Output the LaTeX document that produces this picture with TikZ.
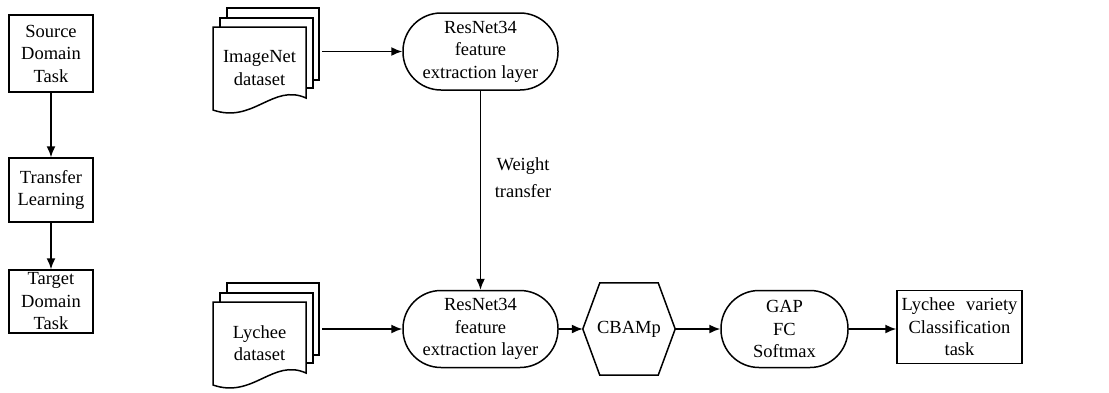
\documentclass[tikz,border=0pt]{standalone}
\usepackage{fontspec}
\setmainfont{Liberation Serif}
\usetikzlibrary{arrows.meta}
\begin{document}
\begin{tikzpicture}[x=1pt,y=-1pt,
  lw/.style={line width=1.5pt},
  txt/.style={align=center,inner sep=0pt,font=\fontsize{18.5}{22.5}\selectfont},
  box/.style={txt,draw,lw},
  stadium/.style={txt,draw,lw,rounded corners=38pt},
  arr/.style={lw,-{Latex[length=11pt,width=9pt]}},
  docstack/.pic={
    \draw[lw,fill=white] (14,-19) rectangle (106,53);
    \draw[lw,fill=white] (7,-9) rectangle (100,61);
    \draw[lw,fill=white] (0,0) -- (93,0) -- (93,71) .. controls (60,56) and (40,97) .. (0,83) -- cycle;
  }]
\useasboundingbox (0,0) rectangle (1109,392);

% left column
\node[box,minimum width=84pt,minimum height=77pt] (src) at (51,53.5) {Source\\Domain\\Task};
\node[box,minimum width=84pt,minimum height=64pt] (trl) at (51,190) {Transfer\\Learning};
\node[box,minimum width=84pt,minimum height=63pt] (tgt) at (51,301.5) {Target\\Domain\\Task};
\draw[arr] (src) -- (trl);
\draw[arr] (trl) -- (tgt);

% document stacks
\pic at (213,27) {docstack};
\pic at (213,302) {docstack};
\node[txt] (imgnet) at (259.5,68) {ImageNet\\dataset};
\node[txt] (lydata) at (259.5,343) {Lychee\\dataset};
\node[inner sep=0pt,minimum width=106pt,minimum height=102pt,anchor=north west] (imgstack) at (213,8) {};
\node[inner sep=0pt,minimum width=106pt,minimum height=102pt,anchor=north west] (lystack) at (213,283) {};

% main nodes
\node[stadium,minimum width=155pt,minimum height=77pt] (res1) at (480.5,51.5) {ResNet34\\feature\\extraction layer};
\node[stadium,minimum width=155pt,minimum height=77pt] (res2) at (480.5,329) {ResNet34\\feature\\extraction layer};
\node[txt,minimum width=92pt,minimum height=92pt] (cbam) at (629,329) {CBAMp};
\draw[lw] (cbam.west) -- ([xshift=17pt]cbam.north west) -- ([xshift=-17pt]cbam.north east)
  -- (cbam.east) -- ([xshift=-17pt]cbam.south east) -- ([xshift=17pt]cbam.south west) -- cycle;
\node[stadium,minimum width=127pt,minimum height=77pt] (gap) at (784.5,329) {GAP\\FC\\Softmax};
\node[box,minimum width=125pt,minimum height=73pt] (lyc) at (959.5,327) {Lychee\hspace{0.6em}variety\\Classification\\task};
\node[txt,font=\fontsize{18.5}{27}\selectfont] (wt) at (523,178) {Weight\\transfer};

% connectors
\draw[arr,shorten <=3pt] (imgstack.east |- res1.west) -- (res1.west);
\draw[arr,shorten <=3pt] (lystack.east |- res2.west) -- (res2.west);
\draw[arr] (res1) -- (res2);
\draw[arr] (res2) -- (cbam);
\draw[arr] (cbam) -- (gap);
\draw[arr] (gap.east) -- (gap.east -| lyc.west);
\end{tikzpicture}
\end{document}
